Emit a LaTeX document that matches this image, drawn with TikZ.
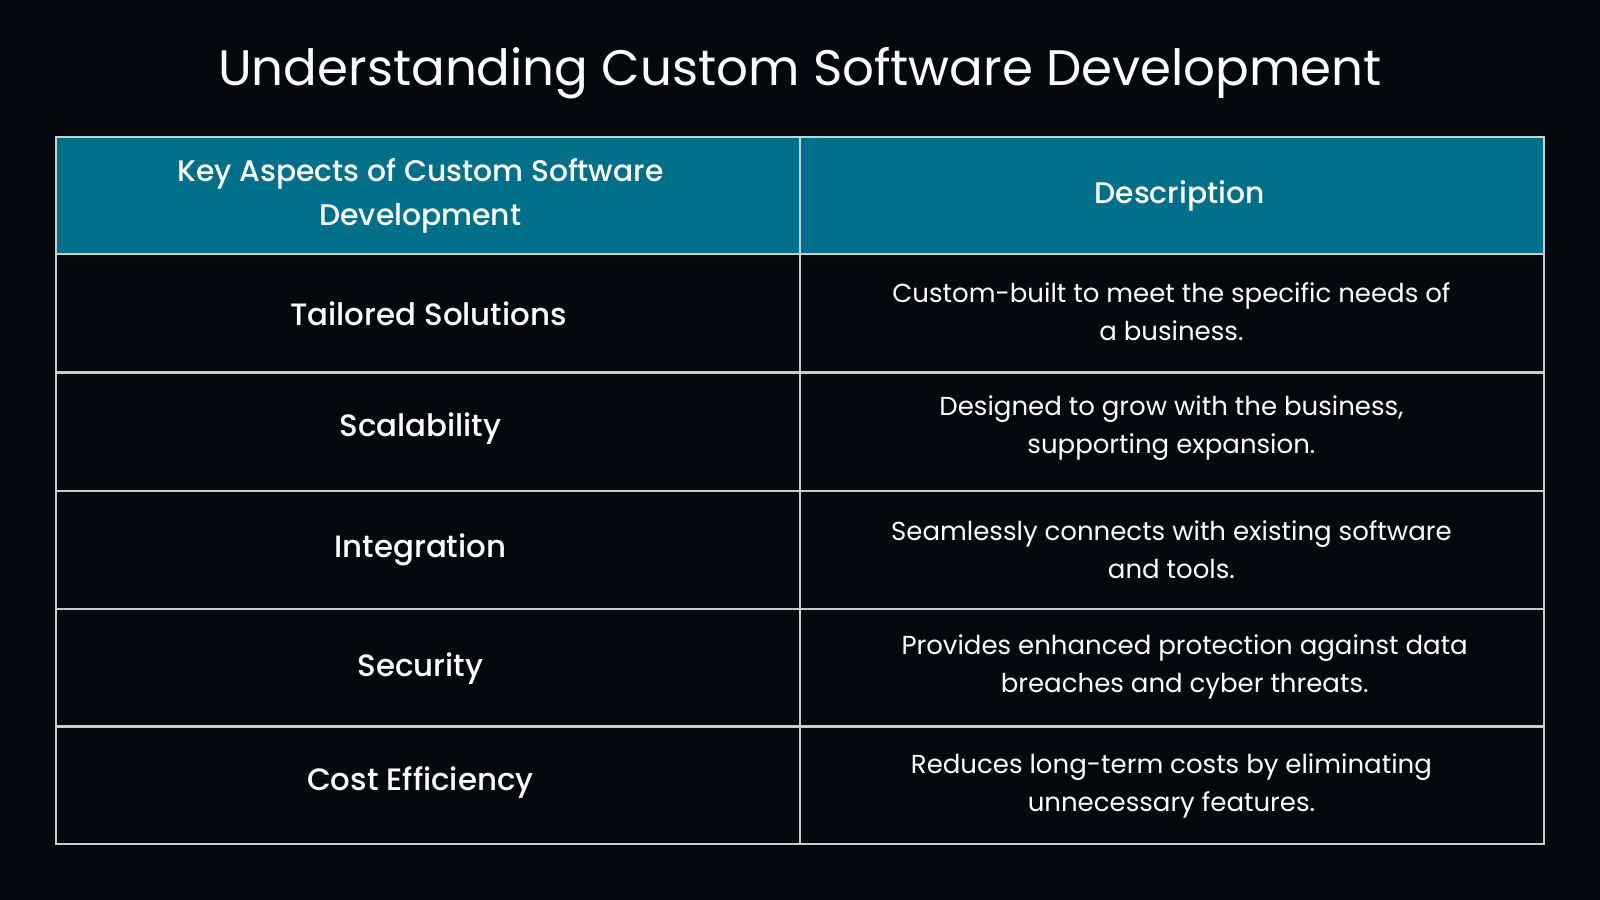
\documentclass[tikz,border=0pt]{standalone}
\usepackage{fontspec}
\setmainfont{Poppins}
\newfontfamily\med{Poppins Medium}
\definecolor{bg}{HTML}{05080C}
\definecolor{teal}{HTML}{006F8A}
\definecolor{grid}{HTML}{C8CDD2}
\begin{document}
\begin{tikzpicture}[x=0.01cm,y=-0.01cm,
  cell/.style={text=white,align=center,font=\fontsize{7.25}{10.6}\selectfont},
  head/.style={text=white,align=center,font=\fontsize{8.3}{12.2}\selectfont\med},
  key/.style={text=white,align=center,font=\fontsize{8.6}{12}\selectfont\med}]
\fill[bg] (0,0) rectangle (1568,882);
\useasboundingbox (0,0) rectangle (1568,882);
\node[text=white,font=\fontsize{13.9}{16}\selectfont] (title) at (784,72) {Understanding Custom Software Development};
\fill[teal] (55,134) rectangle (1513,249);
\draw[grid,line width=0.6pt] (55,134) rectangle (1513,827);
\foreach \y in {249,365,481,597,712} \draw[grid,line width=0.6pt] (55,\y) -- (1513,\y);
\draw[grid,line width=0.6pt] (784,134) -- (784,827);
\node[head] (h1) at (412,192) {Key Aspects of Custom Software\\Development};
\node[head] (h2) at (1156,192) {Description};
\node[key] (k1) at (420,307) {Tailored Solutions};
\node[cell] (d1) at (1148,305) {Custom-built to meet the specific needs of\\a business.};
\node[key] (k2) at (412,420) {Scalability};
\node[cell] (d2) at (1148,420) {Designed to grow with the business,\\supporting expansion.};
\node[key] (k3) at (412,539) {Integration};
\node[cell] (d3) at (1148,539) {Seamlessly connects with existing software\\and tools.};
\node[key] (k4) at (412,655) {Security};
\node[cell] (d4) at (1161,654) {Provides enhanced protection against data\\breaches and cyber threats.};
\node[key] (k5) at (412,767) {Cost Efficiency};
\node[cell] (d5) at (1148,770) {Reduces long-term costs by eliminating\\unnecessary features.};
\end{tikzpicture}
\end{document}
